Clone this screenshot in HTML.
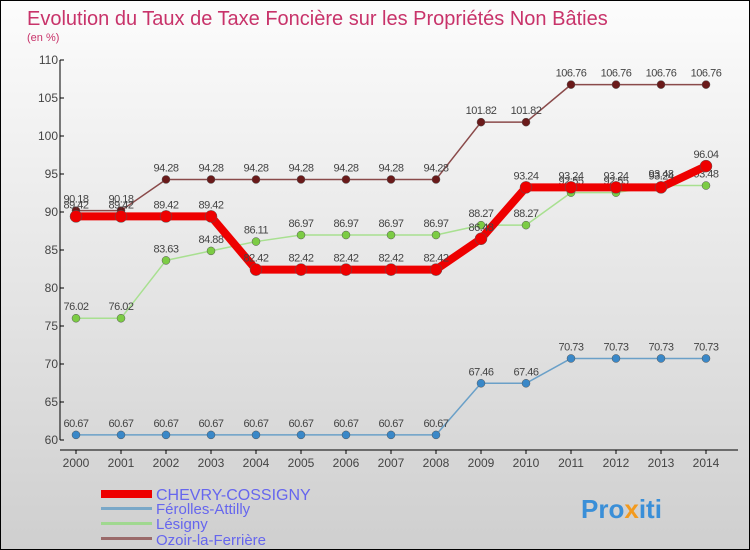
<!DOCTYPE html>
<html><head><meta charset="utf-8"><style>
html,body{margin:0;padding:0}
body{width:750px;height:550px;overflow:hidden;font-family:"Liberation Sans",sans-serif}
#wrap{position:relative;width:748px;height:548px;border:1px solid #000;background:linear-gradient(#fcfcfc,#e6e6e6 50%,#cfcfcf)}
</style></head><body>
<div id="wrap">
<svg id="chart" width="748" height="548" style="position:absolute;left:0;top:0">
<text x="26" y="24" font-size="20" fill="#c8336a">Evolution du Taux de Taxe Foncière sur les Propriétés Non Bâties</text>
<text x="26" y="40" font-size="11" fill="#c8336a">(en %)</text>
<g id="axes"></g><g id="series"></g>
<g>
<rect x="100" y="489" width="51" height="8" fill="#e00"/>
<text x="155" y="499" font-size="16" fill="#6666ee">CHEVRY-COSSIGNY</text>
<rect x="100" y="506" width="51" height="3" fill="#7aa8c8"/>
<text x="155" y="513" font-size="15" fill="#6666ee">Férolles-Attilly</text>
<rect x="100" y="521" width="51" height="3" fill="#a0d890"/>
<text x="155" y="528" font-size="15" fill="#6666ee">Lésigny</text>
<rect x="100" y="536" width="51" height="3" fill="#9a6a6a"/>
<text x="155" y="544" font-size="15" fill="#6666ee">Ozoir-la-Ferrière</text>
</g>
<text x="580" y="517" font-size="26" font-weight="bold" fill="#3a8fd8">Pro<tspan fill="#f39a1e">x</tspan>iti</text>
</svg>
</div>
<script>
const years=[2000,2001,2002,2003,2004,2005,2006,2007,2008,2009,2010,2011,2012,2013,2014];
const yTicks=[60,65,70,75,80,85,90,95,100,105,110];
const chevry=[89.42,89.42,89.42,89.42,82.42,82.42,82.42,82.42,82.42,86.48,93.24,93.24,93.24,93.24,96.04];
const ferolles=[60.67,60.67,60.67,60.67,60.67,60.67,60.67,60.67,60.67,67.46,67.46,70.73,70.73,70.73,70.73];
const lesigny=[76.02,76.02,83.63,84.88,86.11,86.97,86.97,86.97,86.97,88.27,88.27,92.55,92.55,93.48,93.48];
const ozoir=[90.18,90.18,94.28,94.28,94.28,94.28,94.28,94.28,94.28,101.82,101.82,106.76,106.76,106.76,106.76];
const NS="http://www.w3.org/2000/svg";
const xS=i=>75+i*45;
const yS=v=>439-(v-60)*7.6;
function mk(t,a,p){const e=document.createElementNS(NS,t);for(const k in a)e.setAttribute(k,a[k]);p.appendChild(e);return e;}
const ax=document.getElementById('axes');
let l=mk('line',{x1:59,y1:yS(110),x2:59,y2:yS(60),stroke:'#000'},ax);


l=mk('line',{x1:59,y1:449,x2:737,y2:449,stroke:'#000'},ax);


yTicks.forEach(v=>{
 mk('line',{x1:59,y1:yS(v),x2:63,y2:yS(v),stroke:'#000'},ax);
 const t=mk('text',{x:57,y:yS(v)+4,'font-size':12,'text-anchor':'end',fill:'#444'},ax);
 t.textContent=v;
 
 
});
years.forEach((y,i)=>{
 mk('line',{x1:xS(i),y1:449,x2:xS(i),y2:453,stroke:'#000'},ax);
 const t=mk('text',{x:xS(i),y:466,'font-size':12,'text-anchor':'middle',fill:'#444'},ax);
 t.textContent=y;
 
 
});
const sg=document.getElementById('series');
function draw(vals,name,color,w,dot,dfill){
 const g=mk('g',{},sg);
 
 
 const p=mk('polyline',{points:vals.map((v,i)=>xS(i)+','+yS(v)).join(' '),fill:'none',stroke:color,'stroke-width':w,'stroke-linejoin':'round'},g);
 
 
 vals.forEach((v,i)=>{
  const c=mk('circle',{cx:xS(i),cy:yS(v),r:dot,fill:dfill,stroke:'#555','stroke-width':0.5},g);
  
  
  const t=mk('text',{x:xS(i),y:yS(v)-8,'font-size':11,'text-anchor':'middle',fill:'#444','letter-spacing':'-0.5'},g);
  t.textContent=v.toFixed(2).replace(/0$/,'').replace(/\.$/,'');
  
  
 });
}
draw(ferolles,'ferolles','#6aa0c8',1.5,4,'#3a88c8');
draw(lesigny,'lesigny','#a8e090',1.5,4,'#7ccc44');
draw(ozoir,'ozoir','#8a4a4a',1.5,4,'#6a1a1a');
draw(chevry,'chevry','#ee0000',8,6,'#ee0000');
</script>
</body></html>
